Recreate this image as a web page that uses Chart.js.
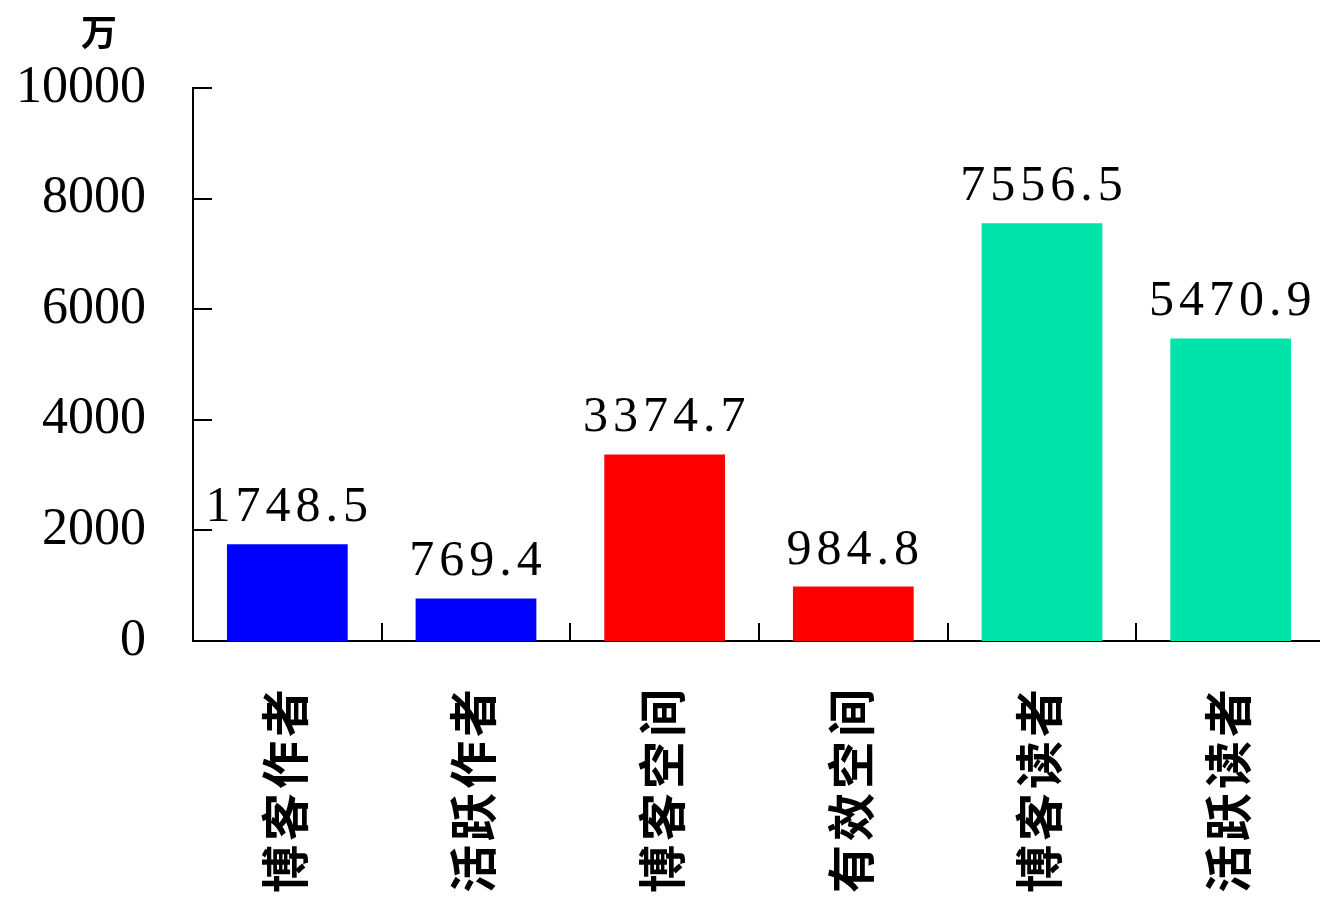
<!DOCTYPE html>
<html lang="zh">
<head>
    <meta charset="UTF-8">
    <title>博客统计</title>
    <script src="https://cdnjs.cloudflare.com/ajax/libs/Chart.js/4.4.1/chart.umd.min.js"></script>
    <style>
        html, body { margin: 0; padding: 0; background: #fff; overflow: hidden; }
        #wrap { width: 1325px; height: 903px; }
    </style>
</head>
<body>
    <div id="wrap"><canvas id="barChart"></canvas></div>

    <script>
        // Data
        const categories = ['博客作者', '活跃作者', '博客空间', '有效空间', '博客读者', '活跃读者'];
        const values = [1748.5, 769.4, 3374.7, 984.8, 7556.5, 5470.9];
        const barColors = ['#0000FF', '#0000FF', '#FF0000', '#FF0000', '#00E4AA', '#00E4AA'];
        const yTicks = [0, 2000, 4000, 6000, 8000, 10000];
        const unitLabel = '万';

        const serif = '"Liberation Serif", "DejaVu Serif", serif';
        const cjk = '"Noto Sans CJK SC", "Noto Sans", sans-serif';

        // inward tick marks, value labels, category labels and unit
        const decorPlugin = {
            id: 'decor',
            afterDatasetsDraw(chart) {
                const ctx = chart.ctx;
                const x = chart.scales.x;
                const y = chart.scales.y;
                const area = chart.chartArea;
                ctx.save();
                ctx.strokeStyle = '#000';
                ctx.lineWidth = 2;
                ctx.beginPath();
                yTicks.forEach(v => {
                    const py = Math.round(y.getPixelForValue(v));
                    ctx.moveTo(area.left, py);
                    ctx.lineTo(area.left + 19, py);
                });
                for (let i = 1; i < categories.length; i++) {
                    const px = Math.round((x.getPixelForValue(i - 1) + x.getPixelForValue(i)) / 2);
                    ctx.moveTo(px, area.bottom);
                    ctx.lineTo(px, area.bottom - 18);
                }
                ctx.stroke();

                // value labels
                ctx.fillStyle = '#000';
                ctx.font = '50px ' + serif;
                ctx.textAlign = 'center';
                ctx.textBaseline = 'alphabetic';
                if ('letterSpacing' in ctx) ctx.letterSpacing = '5px';
                const meta = chart.getDatasetMeta(0);
                meta.data.forEach((bar, i) => {
                    ctx.fillText(values[i].toFixed(1), bar.x + 2, bar.y - 23);
                });

                // category labels, vertical, reading bottom to top
                ctx.font = 'bold 48px ' + cjk;
                ctx.textAlign = 'right';
                ctx.textBaseline = 'middle';
                if ('letterSpacing' in ctx) ctx.letterSpacing = '4px';
                categories.forEach((c, i) => {
                    ctx.save();
                    ctx.translate(x.getPixelForValue(i) - 3, area.bottom + 44);
                    ctx.rotate(-Math.PI / 2);
                    ctx.fillText(c, 0, 0);
                    ctx.restore();
                });
                if ('letterSpacing' in ctx) ctx.letterSpacing = '0px';

                // unit
                ctx.textAlign = 'center';
                ctx.font = 'bold 36px ' + cjk;
                ctx.fillText(unitLabel, 99, 32);
                ctx.restore();
            }
        };

        const ctx = document.getElementById('barChart').getContext('2d');
        const chart = new Chart(ctx, {
            type: 'bar',
            data: {
                labels: categories,
                datasets: [{
                    data: values,
                    backgroundColor: barColors,
                    borderWidth: 0,
                    barPercentage: 0.64,
                    categoryPercentage: 1.0
                }]
            },
            options: {
                responsive: true,
                maintainAspectRatio: false,
                animation: false,
                layout: {
                    padding: { top: 88, right: 0, left: 0, bottom: 0 }
                },
                plugins: {
                    legend: { display: false },
                    tooltip: { enabled: false }
                },
                scales: {
                    x: {
                        grid: { display: false, drawTicks: false },
                        border: { display: true, color: '#000', width: 2 },
                        ticks: { display: false },
                        afterFit(scale) {
                            scale.height = 262;
                            scale.paddingLeft = 0;
                            scale.paddingRight = 0;
                        }
                    },
                    y: {
                        min: 0,
                        max: 10000,
                        grid: { display: false, drawTicks: false },
                        border: { display: true, color: '#000', width: 2 },
                        afterBuildTicks(scale) {
                            scale.ticks = yTicks.map(v => ({ value: v }));
                        },
                        ticks: {
                            color: '#000',
                            font: { family: serif, size: 52 },
                            padding: 47,
                            callback: v => String(v)
                        },
                        afterFit(scale) { scale.width = 193; }
                    }
                }
            },
            plugins: [decorPlugin]
        });
    </script>
</body>
</html>
